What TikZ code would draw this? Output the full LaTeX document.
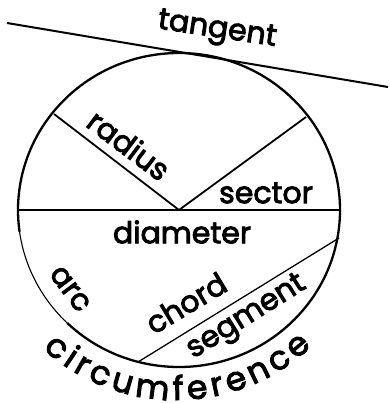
\documentclass[tikz,border=0pt]{standalone}
\usepackage{fontspec}
\setmainfont{Poppins}
\newfontfamily\lblfont{Poppins}[FakeBold=3]
\usetikzlibrary{decorations.text}
\begin{document}
\begin{tikzpicture}[x=1pt,y=1pt,
  lbl/.style={inner sep=0pt, font=\lblfont\fontsize{30}{36}\selectfont},
  rim/.style={line width=2.3pt},
  thinrim/.style={line width=1.1pt},
  diam/.style={line width=2.4pt},
  spoke/.style={line width=1.8pt},
  chordline/.style={line width=1.3pt},
  tanline/.style={line width=2pt}]
\useasboundingbox (0,0) rectangle (389,-403);
\coordinate (O) at (179,-210);
% circle
\draw[rim] (O) ++(226:161 and 157) arc[start angle=226, end angle=548, x radius=161, y radius=157];
\draw[thinrim] (O) ++(188:161 and 157) arc[start angle=188, end angle=226, x radius=161, y radius=157];
% lines
\coordinate (T1) at (7,-23);
\coordinate (T2) at (388,-87);
\draw[tanline] (T1) -- (T2);
\coordinate (D1) at (18,-210);
\coordinate (D2) at (340,-210);
\draw[diam] (D1) -- (D2);
\coordinate (R1) at (54,-114);
\coordinate (R2) at (306,-117);
\draw[spoke] (O) -- (R1);
\draw[spoke] (O) -- (R2);
\coordinate (C1) at (138,-362);
\coordinate (C2) at (339,-238);
\draw[chordline] (C1) -- (C2);
% labels
\node[lbl, rotate=-8.5] (tangent) at (217,-31) {tangent};
\node[lbl, rotate=-37] (radius) at (129,-145) {radius};
\node[lbl] (sector) at (266,-193) {sector};
\node[lbl] (diameter) at (182,-232) {diameter};
\node[lbl, rotate=-53] (arc) at (70,-289) {arc};
\node[lbl, rotate=31] (chord) at (186,-303) {chord};
\node[lbl, rotate=32] (segment) at (247,-318) {segment};
\path[decorate, decoration={text along path, text align=fit to path,
  text={|\lblfont\fontsize{33}{40}\selectfont|circumference}}]
  (176,-201) ++(228:199) arc[start angle=228, end angle=313, radius=199];
\end{tikzpicture}
\end{document}
